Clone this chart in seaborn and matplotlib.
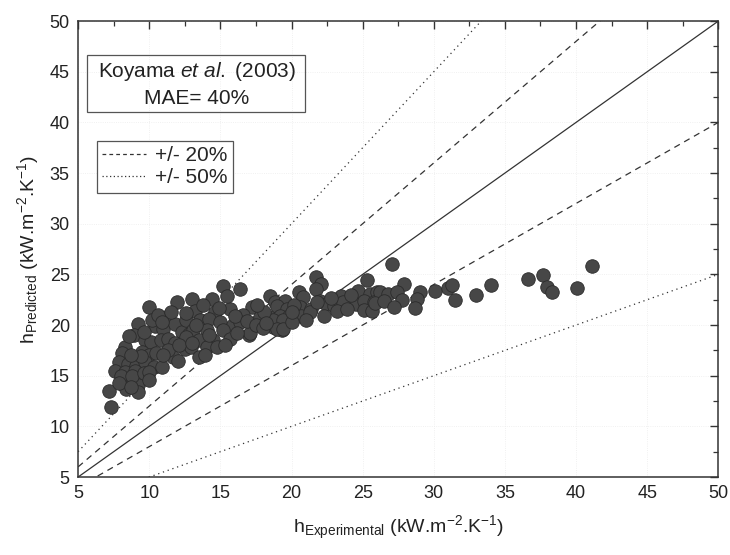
import matplotlib
matplotlib.use("Agg")
import matplotlib.pyplot as plt
from matplotlib.lines import Line2D
from matplotlib.patches import Rectangle
from matplotlib.ticker import MultipleLocator
import numpy as np
import pandas as pd
import seaborn as sns

# ---- data ----
h_experimental = [
    9.95, 11.98, 13.0, 11.2, 9.2, 8.96, 10.4, 11.0, 11.8, 12.3, 12.8, 9.7, 10.1, 10.8, 11.35, 11.8,
    12.5, 8.3, 8.07, 9.5, 9.95, 10.5, 11.7, 7.84, 8.54, 9.1, 9.7, 10.3, 10.9, 7.6, 8.3, 9.0,
    8.4, 9.1, 8.2, 9.2, 8.4, 9.2, 7.2, 7.3,
    15.2, 16.4, 14.4, 13.2, 15.7, 18.5, 18.85, 14.6, 17.2, 16.6, 17.8, 18.4, 19.0, 12.6, 13.6, 14.2,
    15.0, 15.9, 16.4, 18.7, 13.1, 14.05, 15.2, 17.0, 12.6, 13.5, 14.5, 15.7, 12.9, 14.05, 14.75, 13.5,
    13.9, 17.1, 19.3,
    21.7, 22.1, 21.7, 25.3, 24.7, 20.5, 20.8, 19.55, 25.5, 26.0, 23.5, 22.0, 22.4, 23.0, 23.65, 24.5,
    25.1, 25.8, 19.0, 19.7, 20.6, 21.4, 23.2, 25.1, 25.65, 19.2, 19.8, 20.7, 21.3, 22.25, 18.7, 19.4,
    19.0, 19.4,
    27.05, 27.9, 26.2, 26.8, 27.4, 27.75, 29.05, 28.8, 28.7, 30.1, 31.0, 31.3, 31.5, 25.9,
    33.0, 34.05, 36.6, 37.7, 37.95, 38.3, 40.1, 41.1,
    8.0, 8.8, 7.9, 8.7, 9.6, 9.4, 8.7, 8.6, 9.6, 10.2, 10.6, 10.0, 11.3, 12.1, 12.0, 12.6,
    13.3, 14.2, 15.3, 14.9, 16.0, 16.9, 17.5, 18.0, 18.1, 17.6, 16.2, 13.8, 11.5, 10.9, 20.0, 20.2,
    21.0, 21.8, 22.8, 23.9, 24.2, 26.5, 27.2, 20.0, 18.2, 15.5, 13.0, 11.0, 10.0,
]
h_predicted = [
    21.8, 22.3, 22.6, 20.8, 20.1, 19.0, 19.9, 19.6, 20.1, 19.3, 19.1, 18.5, 18.3, 18.5, 18.65, 18.2,
    17.6, 17.8, 17.2, 17.3, 17.0, 17.2, 16.8, 16.35, 16.2, 16.0, 16.35, 15.9, 15.9, 15.5, 15.4, 15.5,
    14.7, 14.7, 14.05, 14.05, 13.7, 13.4, 13.5, 11.9,
    23.9, 23.6, 22.6, 21.4, 21.6, 22.9, 22.3, 21.3, 21.8, 21.0, 20.8, 20.6, 21.1, 20.5, 20.5, 20.6,
    20.3, 20.0, 20.3, 19.8, 19.5, 19.5, 19.5, 19.0, 18.8, 18.5, 18.5, 18.65, 17.8, 17.8, 17.8, 16.8,
    17.0, 19.2, 19.5,
    24.7, 24.1, 23.6, 24.4, 23.4, 23.25, 22.75, 22.4, 23.1, 23.25, 22.9, 22.4, 22.1, 21.9, 22.25, 22.1,
    22.4, 22.25, 21.9, 21.6, 21.8, 21.6, 21.4, 21.5, 21.4, 20.9, 20.9, 20.9, 21.3, 20.9, 20.5, 20.5,
    19.6, 19.6,
    26.0, 24.1, 23.25, 23.1, 23.25, 22.5, 23.25, 22.6, 21.7, 23.35, 23.7, 24.0, 22.5, 22.2,
    23.0, 24.0, 24.5, 24.9, 23.8, 23.3, 23.7, 25.8,
    15.0, 15.0, 14.3, 13.9, 15.3, 16.9, 17.0, 18.9, 19.3, 20.5, 21.0, 15.4, 17.5, 18.0, 16.5, 21.2,
    20.0, 19.0, 18.0, 21.7, 20.9, 20.4, 20.0, 19.7, 21.3, 22.0, 19.2, 22.0, 21.3, 20.3, 20.3, 22.0,
    20.5, 22.3, 22.7, 21.6, 23.0, 22.4, 21.8, 21.3, 20.2, 22.9, 18.2, 17.0, 14.6,
]

axis_range = [5, 50]
deviation_factors = [1.0, 1.2, 0.8, 1.5, 0.5]
deviation_styles = ["-", "--", "--", ":", ":"]
legend_labels = ["+/- 20%", "+/- 50%"]
box_title = "Koyama $\\mathit{et\\ al.}$ (2003)"
box_mae = "MAE= 40%"
x_label = "h$_{\\mathrm{Experimental}}$ (kW.m$^{\\mathrm{-2}}$.K$^{\\mathrm{-1}}$)"
y_label = "h$_{\\mathrm{Predicted}}$ (kW.m$^{\\mathrm{-2}}$.K$^{\\mathrm{-1}}$)"

# ---- style ----
sns.set_theme(style="white")
plt.rcParams["font.family"] = ["Liberation Sans", "DejaVu Sans"]
plt.rcParams["mathtext.fontset"] = "custom"
plt.rcParams["mathtext.rm"] = "Liberation Sans"
plt.rcParams["mathtext.it"] = "Liberation Sans:italic"
plt.rcParams["mathtext.bf"] = "Liberation Sans:bold"

ink = "#333333"

fig = plt.figure(figsize=(7.3, 5.55), dpi=100)
ax = fig.add_axes([0.107, 0.1405, 0.877, 0.8215])

# reference lines
xr = np.array(axis_range, dtype=float)
for f, ls in zip(deviation_factors, deviation_styles):
    ax.plot(xr, f * xr, linestyle=ls, color=ink, lw=0.9,
            dashes=(5, 4) if ls == "--" else ((1, 3) if ls == ":" else (None, None)))

df = pd.DataFrame({"hexp": h_experimental, "hpred": h_predicted})
sns.scatterplot(data=df, x="hexp", y="hpred", ax=ax, s=95, color="#474747",
                edgecolor="#2b2b2b", linewidth=0.6, zorder=3, legend=False)

ax.set_xlim(*axis_range)
ax.set_ylim(*axis_range)
ax.xaxis.set_major_locator(MultipleLocator(5))
ax.yaxis.set_major_locator(MultipleLocator(5))
ax.xaxis.set_minor_locator(MultipleLocator(2.5))
ax.yaxis.set_minor_locator(MultipleLocator(2.5))
ax.tick_params(which="both", direction="in", top=True, right=True, color=ink,
               labelsize=13, labelcolor="#222222")
ax.tick_params(which="major", length=6, width=1, pad=6)
ax.tick_params(which="minor", length=3.5, width=0.9)
for sp in ax.spines.values():
    sp.set_color(ink)
    sp.set_linewidth(1.1)
ax.grid(True, which="major", color="#ececec", linestyle=":", lw=0.6)

ax.set_xlabel(x_label, fontsize=14, color="#222222", labelpad=8)
ax.set_ylabel(y_label, fontsize=14, color="#222222", labelpad=6)

# annotation box
ax.add_patch(Rectangle((0.014, 0.800), 0.341, 0.125, transform=ax.transAxes,
                       fill=False, edgecolor="#555555", lw=0.9, zorder=4))
ax.text(0.185, 0.889, box_title, transform=ax.transAxes, ha="center", va="center",
        fontsize=15, color="#222222")
ax.text(0.185, 0.830, box_mae, transform=ax.transAxes, ha="center", va="center",
        fontsize=15, color="#222222")

# legend
handles = [Line2D([], [], color=ink, lw=0.9, linestyle="--", dashes=(3, 2.5)),
           Line2D([], [], color=ink, lw=0.9, linestyle=":", dashes=(1, 2))]
leg = ax.legend(handles, legend_labels, loc="upper left", bbox_to_anchor=(0.029, 0.737),
                borderaxespad=0, fancybox=False, frameon=True, fontsize=15,
                handlelength=2.1, handletextpad=0.45, labelspacing=0.15, borderpad=0.25)
leg.get_frame().set_edgecolor("#555555")
leg.get_frame().set_linewidth(0.9)
leg.get_frame().set_facecolor("white")
leg.get_frame().set_alpha(1)

fig.savefig("out.png", dpi=100)
